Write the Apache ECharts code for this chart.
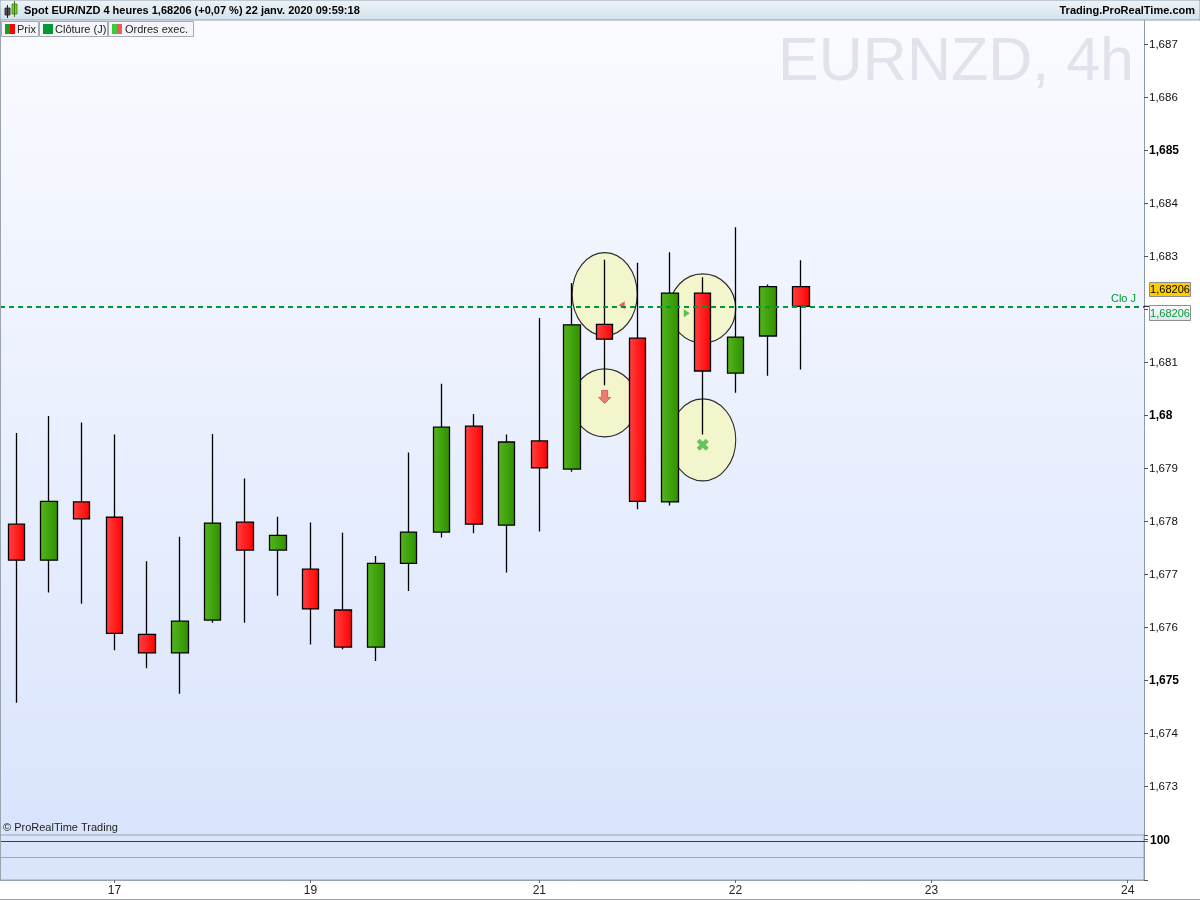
<!DOCTYPE html>
<html>
<head>
<meta charset="utf-8">
<title>EURNZD 4h</title>
<script src="https://cdn.jsdelivr.net/npm/echarts/dist/echarts.min.js"></script>
<style>
  html, body { margin: 0; padding: 0; background: #fff; }
  #main { width: 1200px; height: 900px; }
</style>
</head>
<body>
<div id="main"></div>
<script>
// time slots of the 4h axis (the empty future slots included)
const times = [
  '16/01 12h', '16/01 16h', '16/01 20h',
  '17/01 00h', '17/01 04h', '17/01 08h', '17/01 12h', '17/01 16h', '17/01 20h',
  '19/01 22h',
  '20/01 00h', '20/01 04h', '20/01 08h', '20/01 12h', '20/01 16h', '20/01 20h',
  '21/01 00h', '21/01 04h', '21/01 08h', '21/01 12h', '21/01 16h', '21/01 20h',
  '22/01 00h', '22/01 04h', '22/01 08h', '22/01 12h', '22/01 16h', '22/01 20h',
  '23/01 00h', '23/01 04h', '23/01 08h', '23/01 12h', '23/01 16h', '23/01 20h',
  '24/01 00h'
];
// slots that carry a day label under the axis
const dayTickIdx = [3, 9, 16, 22, 28, 34];

const opens  = [1.67795, 1.67727, 1.67837, 1.67808, 1.67587, 1.67552, 1.67614, 1.67799, 1.67746, 1.67710,
                1.67633, 1.67563, 1.67721, 1.67780, 1.67980, 1.67793, 1.67952, 1.67899, 1.68172, 1.68146,
                1.67837, 1.68231, 1.68080, 1.68150, 1.68243];
const closes = [1.67727, 1.67838, 1.67805, 1.67589, 1.67552, 1.67612, 1.67797, 1.67746, 1.67774, 1.67635,
                1.67563, 1.67721, 1.67780, 1.67978, 1.67795, 1.67950, 1.67901, 1.68171, 1.68144, 1.67838,
                1.68231, 1.68084, 1.68148, 1.68243, 1.68206];
const lows   = [1.67458, 1.67666, 1.67645, 1.67557, 1.67523, 1.67475, 1.67609, 1.67609, 1.67660, 1.67568,
                1.67559, 1.67537, 1.67669, 1.67770, 1.67778, 1.67704, 1.67781, 1.67894, 1.68057, 1.67823,
                1.67830, 1.67964, 1.68043, 1.68075, 1.68087];
const highs  = [1.67967, 1.67999, 1.67987, 1.67964, 1.67725, 1.67771, 1.67965, 1.67881, 1.67809, 1.67798,
                1.67779, 1.67735, 1.67930, 1.68060, 1.68003, 1.67964, 1.68184, 1.68250, 1.68294, 1.68288,
                1.68308, 1.68261, 1.68355, 1.68247, 1.68293];

const closeJ = 1.68206;      // Clôture (J)
const lastPrice = 1.68206;

// highlight circles around the executed orders
const circleIdx   = [18, 18, 21, 21];
const circlePrice = [1.68229, 1.68024, 1.68202, 1.67954];

// executed orders markers
const orderIdx   = [18, 18, 21, 21];
const orderPrice = [1.68208, 1.68035, 1.68193, 1.67945];

// lower panel level
const panelLevel = 100;
const panelMid = 59;

// price axis range
const priceMin = 1.672;
const priceMax = 1.6875;
const priceStep = 0.001;

const FONT = '"Liberation Sans", Arial, sans-serif';

const chart = echarts.init(document.getElementById('main'));

const candleData = opens.map((o, i) => [o, closes[i], lows[i], highs[i]]);

const circleSizes = [[65, 83], [65, 68], [66, 69], [66, 82]];
const orderStyles = [
  { symbol: 'path://M10,0 L10,14 L0,7 Z', symbolSize: [6, 8], symbolOffset: [17, 0], itemStyle: { color: '#e23a3a' } },
  { symbol: 'path://M3,0 L9,0 L9,7 L12,7 L6,13 L0,7 L3,7 Z', symbolSize: [12, 13], itemStyle: { color: '#ea5c5c', borderColor: '#cc3333', borderWidth: 0.8 } },
  { symbol: 'path://M0,0 L10,7 L0,14 Z', symbolSize: [6, 8], symbolOffset: [-16, 0], itemStyle: { color: '#2db52d' } },
  { symbol: 'path://M3,0 L6,3 L9,0 L12,3 L9,6 L12,9 L9,12 L6,9 L3,12 L0,9 L3,6 L0,3 Z', symbolSize: [12, 12], itemStyle: { color: '#3cba3c' } }
];

const showDay = (idx) => dayTickIdx.indexOf(idx) >= 0;

const fmtPrice = (v) => String(v).replace('.', ',');

const option = {
  animation: false,
  backgroundColor: '#ffffff',
  textStyle: { fontFamily: FONT },
  grid: [
    {
      left: 0, right: 56, top: 18, height: 821.5,
      show: true,
      borderWidth: 0,
      backgroundColor: new echarts.graphic.LinearGradient(0, 0, 0, 1, [
        { offset: 0, color: '#fafbff' },
        { offset: 1, color: '#d9e4fc' }
      ])
    },
    {
      left: 0, right: 56, top: 835, height: 45,
      show: true,
      borderColor: '#9aa4ae', borderWidth: 1,
      backgroundColor: '#dae5fc'
    }
  ],
  xAxis: [
    {
      gridIndex: 0, type: 'category', data: times, boundaryGap: true,
      show: false
    },
    {
      gridIndex: 1, type: 'category', data: times, boundaryGap: true,
      axisLine: { show: true, lineStyle: { color: '#9aa4ae' } },
      axisTick: { show: true, alignWithLabel: true, interval: showDay, length: 3, lineStyle: { color: '#666' } },
      axisLabel: {
        interval: showDay,
        formatter: (v) => v.slice(0, 2),
        color: '#222', fontSize: 12, margin: 5, fontFamily: FONT
      },
      splitLine: { show: false }
    }
  ],
  yAxis: [
    {
      gridIndex: 0, type: 'value', position: 'right',
      min: priceMin, max: priceMax, interval: priceStep,
      axisLine: { show: true, lineStyle: { color: '#8c9aa6' } },
      axisTick: { show: true, length: 4, lineStyle: { color: '#555' } },
      splitLine: { show: false },
      axisLabel: {
        margin: 5, color: '#111', fontSize: 11.5, fontFamily: FONT,
        formatter: (v) => {
          const k = Math.round(v * 1000);
          if (Math.abs(v * 1000 - k) > 1e-6) return '';
          if (k === 1682 || k === 1672) return '';
          const s = fmtPrice(k / 1000);
          return k % 5 === 0 ? '{b|' + s + '}' : s;
        },
        rich: { b: { fontWeight: 'bold', fontSize: 12, color: '#000', fontFamily: FONT } }
      }
    },
    {
      gridIndex: 1, type: 'value', position: 'right',
      min: 0, max: 115, interval: 100,
      axisLine: { show: true, lineStyle: { color: '#8c9aa6' } },
      axisTick: { show: true, length: 4, lineStyle: { color: '#555' } },
      splitLine: { show: false },
      axisLabel: {
        margin: 6, color: '#000', fontSize: 12, fontWeight: 'bold', fontFamily: FONT,
        formatter: (v) => (v === panelLevel ? String(v) : '')
      }
    }
  ],
  series: [
    {
      name: 'circles', type: 'scatter', xAxisIndex: 0, yAxisIndex: 0, z: 1, silent: true,
      symbol: 'circle',
      data: circleIdx.map((x, i) => ({ value: [x, circlePrice[i]], symbolSize: circleSizes[i] })),
      itemStyle: { color: '#f3f5cc', borderColor: '#2b2b2b', borderWidth: 1.2, opacity: 1 }
    },
    {
      name: 'Prix', type: 'candlestick', xAxisIndex: 0, yAxisIndex: 0, z: 2,
      barWidth: 17,
      data: candleData,
      itemStyle: {
        color: new echarts.graphic.LinearGradient(0, 0, 1, 0, [
          { offset: 0, color: '#53b61e' },
          { offset: 1, color: '#2f8f00' }
        ]),
        color0: new echarts.graphic.LinearGradient(0, 0, 1, 0, [
          { offset: 0, color: '#ff4242' },
          { offset: 1, color: '#ff0000' }
        ]),
        borderColor: '#000', borderColor0: '#000', borderWidth: 1.3
      },
      markLine: {
        silent: true, symbol: ['none', 'none'], precision: 5,
        data: [{ yAxis: closeJ }],
        lineStyle: { color: '#009933', width: 2, type: [5, 4] },
        label: { show: true, position: 'insideEndTop', formatter: 'Clo J', color: '#009933', fontSize: 11, fontFamily: FONT, distance: [8, 2] }
      }
    },
    {
      name: 'Ordres exec.', type: 'scatter', xAxisIndex: 0, yAxisIndex: 0, z: 3, silent: true,
      data: orderIdx.map((x, i) => Object.assign({ value: [x, orderPrice[i]] }, orderStyles[i]))
    },
    {
      name: 'panel', type: 'line', xAxisIndex: 1, yAxisIndex: 1, data: [], symbol: 'none',
      markLine: {
        silent: true, symbol: ['none', 'none'], label: { show: false },
        data: [
          { yAxis: panelLevel, lineStyle: { color: '#2233bb', width: 1, type: 'solid' } },
          { yAxis: panelMid, lineStyle: { color: '#a0a9b3', width: 1, type: 'solid' } }
        ]
      }
    }
  ],
  graphic: []
};

// static decorations: header bar, legend, watermark, copyright
const deco = [
  {
    type: 'text', z: 1, silent: true,
    style: { text: 'EURNZD, 4h', x: 1134, y: 63, textAlign: 'right', textVerticalAlign: 'middle',
             fill: '#e1e3ec', font: '61px ' + FONT }
  },
  { type: 'line', z: 50, silent: true, shape: { x1: 0.5, y1: 20, x2: 0.5, y2: 880 }, style: { stroke: '#9aa4ae', lineWidth: 1 } },
  {
    type: 'rect', z: 100, silent: true,
    shape: { x: 0, y: 0, width: 1200, height: 20 },
    style: {
      fill: new echarts.graphic.LinearGradient(0, 0, 0, 1, [
        { offset: 0, color: '#eef4f8' },
        { offset: 1, color: '#d2e1ec' }
      ]),
      stroke: '#8fa0ae', lineWidth: 1
    }
  },
  // little candle icon
  { type: 'rect', z: 101, shape: { x: 5, y: 8, width: 5, height: 7 }, style: { fill: '#555', stroke: '#222', lineWidth: 0.8 } },
  { type: 'line', z: 101, shape: { x1: 7.5, y1: 5, x2: 7.5, y2: 18 }, style: { stroke: '#222', lineWidth: 1 } },
  { type: 'rect', z: 101, shape: { x: 12, y: 4, width: 5, height: 10 }, style: { fill: '#7ed321', stroke: '#3a7a10', lineWidth: 0.8 } },
  { type: 'line', z: 101, shape: { x1: 14.5, y1: 1, x2: 14.5, y2: 17 }, style: { stroke: '#3a7a10', lineWidth: 1 } },
  {
    type: 'text', z: 101,
    style: { text: 'Spot EUR/NZD 4 heures 1,68206 (+0,07 %) 22 janv. 2020 09:59:18', x: 24, y: 11,
             textVerticalAlign: 'middle', fill: '#000', font: 'bold 11px ' + FONT }
  },
  {
    type: 'text', z: 101,
    style: { text: 'Trading.ProRealTime.com', x: 1195, y: 11, textAlign: 'right',
             textVerticalAlign: 'middle', fill: '#000', font: 'bold 11px ' + FONT }
  },
  // legend boxes
  { type: 'rect', z: 100, shape: { x: 1.5, y: 21.5, width: 37, height: 15 }, style: { fill: '#f3f5f8', stroke: '#a3abb3', lineWidth: 1 } },
  { type: 'rect', z: 101, shape: { x: 5, y: 24, width: 5, height: 10 }, style: { fill: '#1f9a1f' } },
  { type: 'rect', z: 101, shape: { x: 10, y: 24, width: 5, height: 10 }, style: { fill: '#ff0000' } },
  { type: 'text', z: 101, style: { text: 'Prix', x: 17, y: 29.5, textVerticalAlign: 'middle', fill: '#222', font: '11px ' + FONT } },

  { type: 'rect', z: 100, shape: { x: 39.5, y: 21.5, width: 68, height: 15 }, style: { fill: '#f3f5f8', stroke: '#a3abb3', lineWidth: 1 } },
  { type: 'rect', z: 101, shape: { x: 43, y: 24, width: 10, height: 10 }, style: { fill: '#009933' } },
  { type: 'text', z: 101, style: { text: 'Clôture (J)', x: 55, y: 29.5, textVerticalAlign: 'middle', fill: '#222', font: '11px ' + FONT } },

  { type: 'rect', z: 100, shape: { x: 108.5, y: 21.5, width: 85, height: 15 }, style: { fill: '#f3f5f8', stroke: '#a3abb3', lineWidth: 1 } },
  { type: 'rect', z: 101, shape: { x: 112, y: 24, width: 5, height: 10 }, style: { fill: '#3ccc3c' } },
  { type: 'rect', z: 101, shape: { x: 117, y: 24, width: 5, height: 10 }, style: { fill: '#ee5a5a' } },
  { type: 'text', z: 101, style: { text: 'Ordres exec.', x: 125, y: 29.5, textVerticalAlign: 'middle', fill: '#222', font: '11px ' + FONT } },

  {
    type: 'text', z: 100,
    style: { text: '© ProRealTime Trading', x: 3, y: 828, textVerticalAlign: 'middle', fill: '#222', font: '11px ' + FONT }
  },
  { type: 'line', z: 100, silent: true, shape: { x1: 0, y1: 899.5, x2: 1200, y2: 899.5 }, style: { stroke: '#9aa4ae', lineWidth: 1 } }
];

option.graphic = deco;
chart.setOption(option);

// price tags on the axis, placed from the axis scale
const yLine = chart.convertToPixel({ yAxisIndex: 0 }, closeJ);
const yLast = chart.convertToPixel({ yAxisIndex: 0 }, lastPrice);
const tags = [
  { type: 'line', z: 100, shape: { x1: 1144, y1: yLine, x2: 1149, y2: yLine }, style: { stroke: '#000', lineWidth: 1 } },
  { type: 'rect', z: 100, shape: { x: 1149.5, y: Math.round(yLast) - 23.5, width: 41, height: 14 }, style: { fill: '#ffcc00', stroke: '#8a8f95', lineWidth: 1 } },
  { type: 'text', z: 101, style: { text: fmtPrice(lastPrice), x: 1170, y: Math.round(yLast) - 16, textAlign: 'center', textVerticalAlign: 'middle', fill: '#000', font: '11px ' + FONT } },
  {
    type: 'rect', z: 100, shape: { x: 1149.5, y: Math.round(yLine) - 0.5, width: 41, height: 15 },
    style: {
      fill: new echarts.graphic.LinearGradient(0, 0, 0, 1, [
        { offset: 0, color: '#ffffff' },
        { offset: 1, color: '#dbe3ee' }
      ]),
      stroke: '#8a8f95', lineWidth: 1
    }
  },
  { type: 'text', z: 101, style: { text: fmtPrice(closeJ), x: 1170, y: Math.round(yLine) + 7.5, textAlign: 'center', textVerticalAlign: 'middle', fill: '#009933', font: '11px ' + FONT } }
];
option.graphic = deco.concat(tags);
chart.setOption(option, true);
</script>
</body>
</html>
